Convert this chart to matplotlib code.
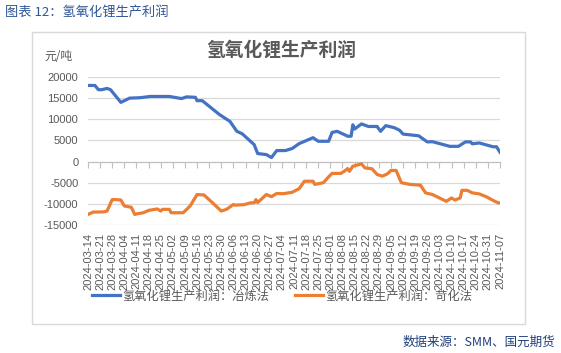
import matplotlib
matplotlib.use("Agg")
import matplotlib.pyplot as plt
import matplotlib.dates as mdates
import matplotlib.patches as mpatches
import pandas as pd

plt.rcParams['font.family'] = ['Noto Sans CJK SC', 'DejaVu Sans']
plt.rcParams['axes.unicode_minus'] = False

# ---- data ----
smelt_dates = ["2024-03-14", "2024-03-18", "2024-03-20", "2024-03-22", "2024-03-25", "2024-03-27",
               "2024-04-02", "2024-04-07", "2024-04-13", "2024-04-19", "2024-04-30", "2024-05-07",
               "2024-05-10", "2024-05-15", "2024-05-16", "2024-05-19", "2024-05-29", "2024-06-04",
               "2024-06-08", "2024-06-11", "2024-06-18", "2024-06-20", "2024-06-25", "2024-06-28",
               "2024-07-01", "2024-07-06", "2024-07-10", "2024-07-14", "2024-07-22", "2024-07-25",
               "2024-07-31", "2024-08-02", "2024-08-05", "2024-08-11", "2024-08-13", "2024-08-14",
               "2024-08-15", "2024-08-19", "2024-08-23", "2024-08-28", "2024-08-30", "2024-09-02",
               "2024-09-07", "2024-09-10", "2024-09-12", "2024-09-21", "2024-09-26", "2024-09-29",
               "2024-10-09", "2024-10-14", "2024-10-18", "2024-10-21", "2024-10-22", "2024-10-26",
               "2024-11-03", "2024-11-05", "2024-11-07"]
smelt_vals = [18000, 18000, 17000, 17000, 17300, 17000,
              14000, 15000, 15100, 15400, 15400, 14900,
              15300, 15200, 14400, 14400, 11100, 9500,
              7150, 6600, 4000, 1900, 1650, 950,
              2600, 2600, 3100, 4250, 5650, 4800,
              4800, 6900, 7150, 6000, 6000, 8700,
              7700, 8900, 8300, 8300, 7150, 8500,
              8000, 7400, 6500, 6100, 4650, 4700,
              3600, 3600, 4650, 4650, 4200, 4400,
              3500, 3500, 2200]

caus_dates = ["2024-03-14", "2024-03-17", "2024-03-23", "2024-03-25", "2024-03-28", "2024-03-30",
              "2024-04-02", "2024-04-04", "2024-04-08", "2024-04-10", "2024-04-12", "2024-04-15",
              "2024-04-18", "2024-04-23", "2024-04-25", "2024-04-26", "2024-04-30", "2024-05-01",
              "2024-05-08", "2024-05-12", "2024-05-16", "2024-05-20", "2024-05-24", "2024-05-30",
              "2024-06-02", "2024-06-06", "2024-06-07", "2024-06-12", "2024-06-16", "2024-06-18",
              "2024-06-19", "2024-06-20", "2024-06-25", "2024-06-28", "2024-07-01", "2024-07-05",
              "2024-07-10", "2024-07-14", "2024-07-17", "2024-07-22", "2024-07-23", "2024-07-28",
              "2024-07-31", "2024-08-02", "2024-08-07", "2024-08-09", "2024-08-11", "2024-08-12",
              "2024-08-14", "2024-08-19", "2024-08-21", "2024-08-25", "2024-08-28", "2024-08-31",
              "2024-09-03", "2024-09-05", "2024-09-08", "2024-09-11", "2024-09-16", "2024-09-21",
              "2024-09-22", "2024-09-25", "2024-09-29", "2024-10-07", "2024-10-10", "2024-10-12",
              "2024-10-15", "2024-10-16", "2024-10-19", "2024-10-22", "2024-10-26", "2024-10-30",
              "2024-11-04", "2024-11-06", "2024-11-07"]
caus_vals = [-12500, -11950, -11900, -11700, -9000, -9000,
             -9100, -10500, -10800, -12500, -12300, -12100,
             -11550, -11200, -11700, -11300, -11300, -12100,
             -12100, -10500, -7800, -7900, -9400, -11700,
             -11300, -10150, -10300, -10200, -9750, -9750,
             -9000, -9700, -7800, -8300, -7550, -7600,
             -7250, -6400, -4650, -4650, -5400, -5000,
             -3600, -2800, -2800, -2300, -1650, -2300,
             -1100, -550, -1500, -1700, -3050, -3450,
             -2900, -2100, -2100, -5000, -5400, -5550,
             -5550, -7400, -7800, -9400, -8600, -9100,
             -8600, -6800, -6800, -7400, -7650, -8300,
             -9400, -9750, -9750]

series_names = ["氢氧化锂生产利润：冶炼法", "氢氧化锂生产利润：苛化法"]
y_ticks = [-15000, -10000, -5000, 0, 5000, 10000, 15000, 20000]
x_start, x_end = "2024-03-14", "2024-11-07"

# ---- figure ----
W, H = 561, 353
fig = plt.figure(figsize=(W / 100, H / 100), dpi=100)

# outer frame
fig.patches.append(mpatches.Rectangle((32 / W, 1 - 324 / H), (525 - 32) / W, (324 - 32) / H,
                                      transform=fig.transFigure, fill=False,
                                      edgecolor='#D9D9D9', linewidth=1))

ax = fig.add_axes([88 / W, 1 - 225 / H, (500 - 88) / W, (225 - 77) / H])

xs1 = mdates.date2num(pd.to_datetime(smelt_dates))
xs2 = mdates.date2num(pd.to_datetime(caus_dates))
ax.plot(xs1, smelt_vals, color='#4472C4', lw=2.3, solid_joinstyle='round', label=series_names[0], zorder=3)
ax.plot(xs2, caus_vals, color='#ED7D31', lw=2.3, solid_joinstyle='round', label=series_names[1], zorder=3)

x0 = mdates.date2num(pd.Timestamp(x_start))
x1 = mdates.date2num(pd.Timestamp(x_end))
ax.set_xlim(x0, x1)
ax.set_ylim(-15000, 20000)

ax.set_yticks(y_ticks)
ax.set_yticklabels([str(v) for v in y_ticks])
for v in y_ticks:
    if v != 0:
        ax.axhline(v, color='#D9D9D9', lw=0.9, zorder=1)

for s in ['top', 'right', 'left']:
    ax.spines[s].set_visible(False)
ax.spines['bottom'].set_position(('data', 0))
ax.spines['bottom'].set_color('#BFBFBF')
ax.spines['bottom'].set_linewidth(0.9)

tick_dates = pd.date_range(x_start, x_end, freq='7D')
tick_pos = mdates.date2num(tick_dates)
ax.set_xticks(tick_pos)
ax.tick_params(axis='x', direction='out', length=4, color='#BFBFBF', width=0.8, labelbottom=False)
ax.tick_params(axis='y', length=0, pad=7, labelsize=8, labelcolor='#595959')
for t in ax.get_yticklabels():
    t.set_family(['Liberation Sans', 'DejaVu Sans'])

sec = ax.secondary_xaxis('bottom')
sec.set_xticks(tick_pos)
sec.set_xticklabels([d.strftime('%Y-%m-%d') for d in tick_dates], rotation=90,
                    fontsize=8, color='#595959', family=['Liberation Sans', 'DejaVu Sans'])
sec.tick_params(axis='x', length=0, pad=6)
sec.spines['bottom'].set_visible(False)

# texts
fig.text(5 / W, 1 - 12 / H, "图表 12：氢氧化锂生产利润", fontsize=9.5, color='#2E5597',
         ha='left', va='center')
fig.text(281 / W, 1 - 50 / H, "氢氧化锂生产利润", fontsize=13.5, color='#595959',
         ha='center', va='center', fontweight='bold')
fig.text(44 / W, 1 - 57 / H, "元/吨", fontsize=8.5, color='#595959', ha='left', va='center')
fig.text(555 / W, 1 - 342 / H, "数据来源：SMM、国元期货", fontsize=9, color='#1F3F7A',
         ha='right', va='center')

fig.legend(loc='center', bbox_to_anchor=(282 / W, 1 - 296 / H), ncol=2, frameon=False,
           fontsize=8.8, handlelength=2.3, handletextpad=0.15, columnspacing=2.1,
           labelcolor='#595959')

fig.savefig("out.png", dpi=100)
